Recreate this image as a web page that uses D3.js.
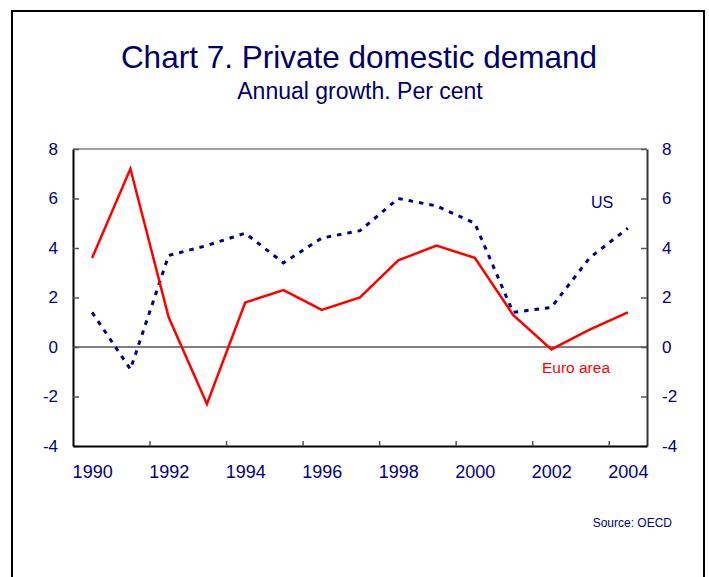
<!DOCTYPE html>
<html>
<head>
<meta charset="utf-8">
<script src="https://cdn.jsdelivr.net/npm/d3@7"></script>
<style>
  body { margin: 0; background: #fff; }
  svg { display: block; font-family: "Liberation Sans", Arial, sans-serif; }
</style>
</head>
<body>
<svg id="chart" width="709" height="577"></svg>
<script>
  // Data
  var years = [1990, 1991, 1992, 1993, 1994, 1995, 1996, 1997, 1998, 1999, 2000, 2001, 2002, 2003, 2004];
  var euroArea = [3.6, 7.2, 1.2, -2.3, 1.8, 2.3, 1.5, 2.0, 3.5, 4.1, 3.6, 1.3, -0.1, 0.7, 1.4];
  var us = [1.4, -0.9, 3.7, 4.1, 4.6, 3.4, 4.4, 4.7, 6.0, 5.7, 5.0, 1.4, 1.6, 3.6, 4.8];
  var yTicks = [-4, -2, 0, 2, 4, 6, 8];

  var navy = "#000080";
  var red = "#ff0000";

  var plot = { left: 73, right: 647, top: 149, bottom: 446 };

  var svg = d3.select("#chart");

  // Frame (open at the bottom)
  svg.append("path")
    .attr("d", "M12,580V11H704V580")
    .style("fill", "none")
    .style("stroke", "#000")
    .style("stroke-width", "2px");

  // Titles
  svg.append("text")
    .attr("x", 359)
    .attr("y", 68)
    .attr("text-anchor", "middle")
    .style("font-size", "31.5px")
    .style("fill", "#000066")
    .text("Chart 7. Private domestic demand");

  svg.append("text")
    .attr("x", 360)
    .attr("y", 99)
    .attr("text-anchor", "middle")
    .style("font-size", "23px")
    .style("fill", "#000066")
    .text("Annual growth. Per cent");

  // Scales: x by year index, each year centred in its slot
  var x = d3.scaleLinear()
    .domain([-0.5, years.length - 0.5])
    .range([plot.left, plot.right]);

  var y = d3.scaleLinear()
    .domain([-4, 8])
    .range([plot.bottom, plot.top]);

  // Top border of plot
  svg.append("line")
    .attr("x1", plot.left)
    .attr("x2", plot.right)
    .attr("y1", plot.top)
    .attr("y2", plot.top)
    .style("stroke", "#808080")
    .style("stroke-width", "1.5px");

  // Zero line
  svg.append("line")
    .attr("x1", plot.left)
    .attr("x2", plot.right)
    .attr("y1", y(0))
    .attr("y2", y(0))
    .style("stroke", "#000")
    .style("stroke-width", "1px");

  var plain = function (d) { return String(d); };

  // Left axis
  var gLeft = svg.append("g")
    .attr("transform", "translate(" + plot.left + ",0)")
    .call(d3.axisLeft(y).tickValues(yTicks).tickFormat(plain)
      .tickSize(-6).tickPadding(15).tickSizeOuter(0));

  // Right axis
  var gRight = svg.append("g")
    .attr("transform", "translate(" + plot.right + ",0)")
    .call(d3.axisRight(y).tickValues(yTicks).tickFormat(plain)
      .tickSize(-6).tickPadding(15).tickSizeOuter(0));

  // Bottom axis: tick marks between every second year
  var boundaries = d3.range(1.5, years.length - 1, 2);
  var gBottom = svg.append("g")
    .attr("transform", "translate(0," + plot.bottom + ")")
    .call(d3.axisBottom(x).tickValues(boundaries).tickSize(-5).tickFormat("").tickSizeOuter(0));

  // Bottom labels on even years
  var labelIdx = d3.range(0, years.length, 2);
  var gLabels = svg.append("g")
    .attr("transform", "translate(0," + plot.bottom + ")")
    .call(d3.axisBottom(x).tickValues(labelIdx).tickSize(0).tickPadding(19)
      .tickFormat(function (i) { return years[i]; }));
  gLabels.select(".domain").remove();

  [gLeft, gRight, gBottom].forEach(function (g) {
    g.select(".domain").style("stroke", "#000").style("stroke-width", "2px");
    g.selectAll(".tick line").style("stroke", "#555").style("stroke-width", "1.5px");
  });
  gRight.select(".domain").style("stroke", "#333");

  [gLeft, gRight, gLabels].forEach(function (g) {
    g.selectAll(".tick text")
      .style("font-family", "\"Liberation Sans\", Arial, sans-serif")
      .style("font-size", "17px")
      .style("fill", navy);
  });
  gLabels.selectAll(".tick text").style("font-size", "18px");

  // Lines
  var line = d3.line()
    .x(function (d, i) { return x(i); })
    .y(function (d) { return y(d); });

  svg.append("path")
    .datum(us)
    .attr("d", line)
    .style("fill", "none")
    .style("stroke", navy)
    .style("stroke-width", "3px")
    .style("stroke-dasharray", "4.5,6");

  svg.append("path")
    .datum(euroArea)
    .attr("d", line)
    .style("fill", "none")
    .style("stroke", red)
    .style("stroke-width", "2.5px")
    .style("stroke-linejoin", "miter");

  // Series labels
  svg.append("text")
    .attr("x", 602)
    .attr("y", 208)
    .attr("text-anchor", "middle")
    .style("font-size", "16px")
    .style("fill", navy)
    .text("US");

  svg.append("text")
    .attr("x", 576)
    .attr("y", 373)
    .attr("text-anchor", "middle")
    .style("font-size", "15.5px")
    .style("fill", red)
    .text("Euro area");

  // Source
  svg.append("text")
    .attr("x", 672)
    .attr("y", 527)
    .attr("text-anchor", "end")
    .style("font-size", "12px")
    .style("fill", navy)
    .text("Source: OECD");
</script>
</body>
</html>
